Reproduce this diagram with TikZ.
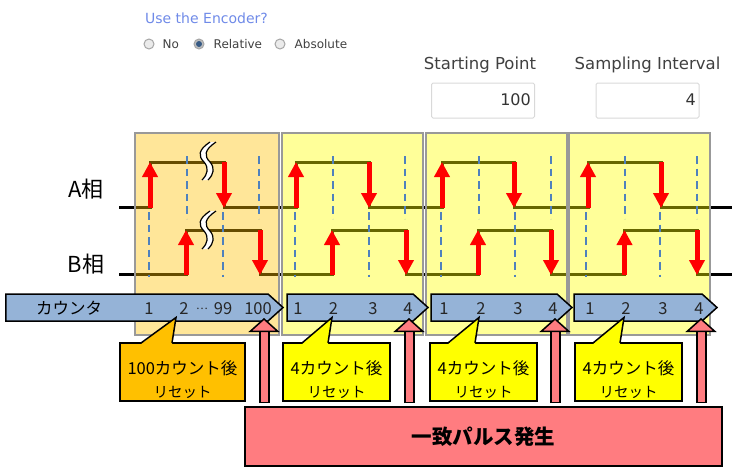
\documentclass[tikz,border=0pt]{standalone}
\usepackage{fontspec}
\setmainfont{Noto Sans CJK JP}
\newfontfamily\uifont{DejaVu Sans}
\usetikzlibrary{arrows.meta,positioning,shapes.symbols}
\definecolor{linkblue}{HTML}{6F8AE8}
\definecolor{uitext}{HTML}{404040}
\definecolor{dashblue}{HTML}{4F81BD}
\definecolor{counterblue}{HTML}{95B3D7}
\definecolor{orange}{HTML}{FFC000}
\definecolor{lemon}{HTML}{FFFF00}
\definecolor{arrowred}{HTML}{FF0000}
\definecolor{pulsered}{HTML}{FF7C80}
\definecolor{panelgray}{HTML}{999999}
\tikzset{
  panel/.style={draw=panelgray, line width=1.5pt, fill opacity=0.4, inner sep=0pt},
  wave/.style={line width=3pt, draw=black},
  tick/.style={line width=2.5pt, draw=dashblue, dash pattern=on 7.5pt off 5pt},
  edge/.style={-{Triangle[length=15pt,width=15pt]}, line width=5pt, draw=arrowred},
  counter/.style={signal, signal to=east, signal from=nowhere, signal pointer angle=84, draw=black, line width=1.5pt, fill=counterblue, minimum height=27pt, inner sep=0pt},
  count/.style={font=\fontsize{16.5}{17}\selectfont, text=black!85, inner sep=0pt},
  callbox/.style={draw=black, line width=1.5pt, minimum height=58pt, inner sep=0pt},
  calltext/.style={align=center, inner sep=0pt, font=\fontsize{16.5}{23}\selectfont},
  callside/.style={line width=1.5pt, draw=black, line join=miter},
  pulsearrow/.style={-{Triangle[length=14pt,width=31pt,line width=1.5pt,fill=pulsered,color=black]}, line width=7pt, draw=pulsered, shorten <=1.5pt, preaction={draw=black, line width=11pt, -, shorten >=12pt, shorten <=0pt}},
  radio/.style={circle, draw=black!35, line width=1pt, fill=black!8, minimum size=10pt, inner sep=0pt},
  uilabel/.style={font=\uifont\fontsize{12}{12}\selectfont, text=uitext, inner sep=0pt},
  uititle/.style={font=\uifont\fontsize{16.5}{17}\selectfont, text=uitext, inner sep=0pt},
  uivalue/.style={font=\uifont\fontsize{16}{16}\selectfont, text=black!80, inner sep=0pt, anchor=east},
  inputbox/.style={draw=black!15, line width=1pt, rounded corners=1.5pt, fill=white, minimum width=103pt, minimum height=35pt, inner sep=0pt},
  phase/.style={font=\fontsize{22}{22}\selectfont, inner sep=0pt}
}
\newcommand{\resetline}{{\fontsize{14.5}{23}\selectfont リセット}}
\newcommand{\breakmark}[1]{
  \begin{scope}[yshift=-#1pt]
    \fill[white] (210,142) .. controls (198,150) and (198,156) .. (204,162) .. controls (209,168) and (208,174) .. (202,180) -- (208,180) .. controls (214,174) and (215,168) .. (210,162) .. controls (204,156) and (204,150) .. (216,142) -- cycle;
    \draw[line width=1.2pt] (210,142) .. controls (198,150) and (198,156) .. (204,162) .. controls (209,168) and (208,174) .. (202,180);
    \draw[line width=1.2pt] (208,180) .. controls (214,174) and (215,168) .. (210,162) .. controls (204,156) and (204,150) .. (216,142);
  \end{scope}
}
\begin{document}
\begin{tikzpicture}[x=1pt,y=-1pt]
\useasboundingbox (0,0) rectangle (738,472);
% encoder settings
\node[font=\uifont\fontsize{14}{14}\selectfont, text=linkblue, inner sep=0pt] (title) at (206.5,18) {Use the Encoder?};
\node[radio] (no) at (149,44) {};
\node[uilabel, right=8pt of no] (nolabel) {No};
\node[radio, fill=black!25] (rel) at (199,44) {};
\fill[dashblue!70!black] (rel) circle (3pt);
\node[uilabel, right=9pt of rel] (rellabel) {Relative};
\node[radio] (abs) at (280,44) {};
\node[uilabel, right=9pt of abs] (abslabel) {Absolute};
\node[uititle] (start) at (480,65) {Starting Point};
\node[uititle] (interval) at (647.5,65) {Sampling Interval};
\node[inputbox] (startbox) at (483,100.5) {};
\node[uivalue] (startval) at (531,100) {100};
\node[inputbox] (intervalbox) at (647.5,100.5) {};
\node[uivalue] (intervalval) at (696,100) {4};
% signals
\draw[wave] (119,207) -| (150,162) -| (224,207) -| (296,162) -| (369,207) -| (442,162) -| (514,207) -| (588,162) -| (661,207) -- (732,207);
\draw[wave] (119,274) -| (186,230) -| (260,274) -| (332,230) -| (406,274) -| (478,230) -| (551,274) -| (624.5,230) -| (697,274) -- (732,274);
\foreach \l/\r/\c in {135/279/orange,282/423/lemon,426/567/lemon,569/710/lemon}
  \path[panel, fill=\c] (\l,133) rectangle (\r,335);
\breakmark{0}
\breakmark{69}
\node[phase] (a) at (86,189) {A相};
\node[phase] (b) at (86,264) {B相};
\foreach \x in {149,223,295,369,441,515,586,660}
  \draw[tick] (\x,212) -- (\x,277);
\foreach \x in {187,259,333,405,479,551,625,697}
  \draw[tick] (\x,156) -- (\x,218.5);
\foreach \x in {150,296,442,588}
  \draw[edge] (\x,208) -- (\x,162);
\foreach \x in {224,369,514,661}
  \draw[edge] (\x,162) -- (\x,208);
\foreach \x in {186,332,478,624.5}
  \draw[edge] (\x,275) -- (\x,230);
\foreach \x in {260,406,551,697}
  \draw[edge] (\x,230) -- (\x,275);
% counters
\node[counter, minimum width=277pt] (c1) at (137,307.5) {};
\node[counter, minimum width=141pt] (c2) at (350,307.5) {};
\node[counter, minimum width=141pt] (c3) at (494,307.5) {};
\node[counter, minimum width=143pt] (c4) at (638,307.5) {};
\node[font=\fontsize{16.5}{17}\selectfont, inner sep=0pt] (ctitle) at (69,308) {カウンタ};
% resets
\node[callbox, fill=orange, minimum width=125pt] (r1) at (182.5,372) {};
\node[callbox, fill=lemon, minimum width=107pt] (r2) at (336.5,372) {};
\node[callbox, fill=lemon, minimum width=107pt] (r3) at (483.5,372) {};
\node[callbox, fill=lemon, minimum width=107pt] (r4) at (628.5,372) {};
\foreach \n/\c/\l/\r/\t in {r1/orange/141/172/176,r2/lemon/302/328/332,r3/lemon/448/475/479,r4/lemon/593/620/624}{
  \coordinate (\n tip) at (\t,317.5);
  \coordinate (\n left) at (\l,343);
  \coordinate (\n right) at (\r,343);
  \fill[\c] ([yshift=-1pt]\n left) -- (\n tip) -- ([yshift=-1pt]\n right) -- cycle;
  \draw[callside] (\n left) -- (\n tip) -- (\n right);
}
\foreach \x/\t in {149/1,184/2,223/99,258/100,298/1,333.5/2,373/3,408/4,444/1,481/2,518/3,553/4,590/1,626/2,663/3,699/4}
  \node[count] at (\x,309) {\t};
\node[count, font=\fontsize{11}{11}\selectfont] (dots) at (202,309) {…};
\node[calltext] (t1) at (182.5,380) {100カウント後\\\resetline};
\node[calltext] (t2) at (336.5,380) {4カウント後\\\resetline};
\node[calltext] (t3) at (483.5,380) {4カウント後\\\resetline};
\node[calltext] (t4) at (628.5,380) {4カウント後\\\resetline};
% pulse
\node[draw=black, line width=1.5pt, fill=pulsered, minimum width=477pt, minimum height=59pt, inner sep=0pt, font=\fontsize{20.5}{21}\selectfont\bfseries] (pulse) at (483.5,436.5) {一致パルス発生};
\foreach \x in {264,409,555,701}
  \draw[pulsearrow] (\x,403) -- (\x,318);
\end{tikzpicture}
\end{document}
